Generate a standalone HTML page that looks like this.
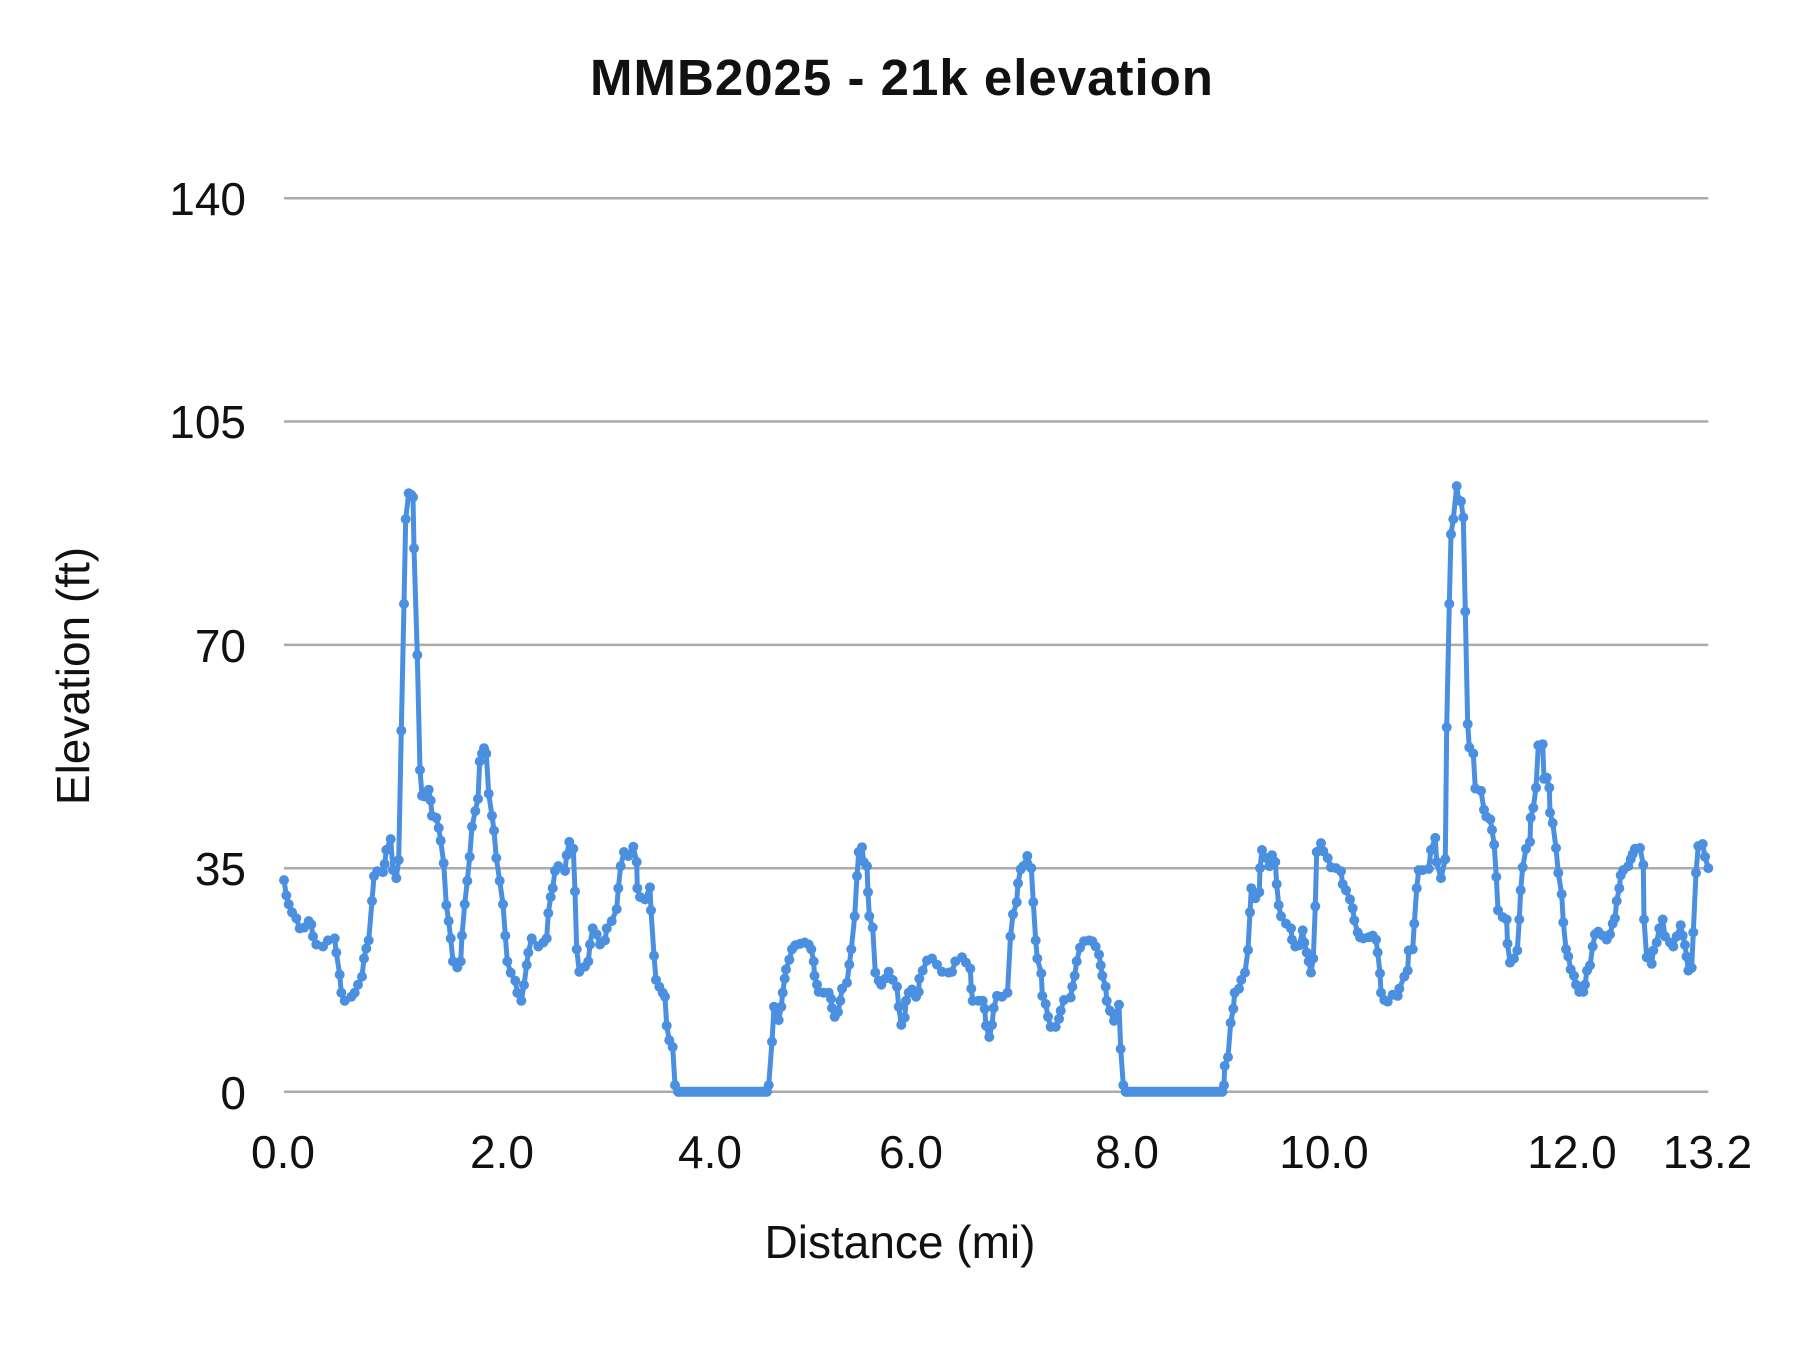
<!DOCTYPE html>
<html>
<head>
<meta charset="utf-8">
<style>
  html, body { margin: 0; padding: 0; background: #ffffff; }
  svg { display: block; }
  text { font-family: "Liberation Sans", Arial, sans-serif; fill: #111; }
</style>
</head>
<body>
<svg width="1800" height="1350" viewBox="0 0 1800 1350" xmlns="http://www.w3.org/2000/svg">
  <defs>
    <marker id="dot" markerWidth="12" markerHeight="12" refX="6" refY="6" markerUnits="userSpaceOnUse" overflow="visible">
      <circle cx="6" cy="6" r="5" fill="#4a8fe0"/>
    </marker>
  </defs>
  <rect x="0" y="0" width="1800" height="1350" fill="#ffffff"/>

  <text x="902" y="95" text-anchor="middle" font-size="51" font-weight="bold" letter-spacing="1">MMB2025 - 21k elevation</text>

  <g stroke="#ababab" stroke-width="2.5">
    <line x1="284" y1="198.3" x2="1708.3" y2="198.3"/>
    <line x1="284" y1="421.5" x2="1708.3" y2="421.5"/>
    <line x1="284" y1="644.9" x2="1708.3" y2="644.9"/>
    <line x1="284" y1="868.3" x2="1708.3" y2="868.3"/>
    <line x1="284" y1="1091.7" x2="1708.3" y2="1091.7"/>
  </g>

  <g font-size="46" text-anchor="end">
    <text x="246" y="215">140</text>
    <text x="246" y="438">105</text>
    <text x="246" y="662">70</text>
    <text x="246" y="885">35</text>
    <text x="246" y="1109">0</text>
  </g>

  <g font-size="46" text-anchor="middle">
    <text x="283" y="1168">0.0</text>
    <text x="502" y="1168">2.0</text>
    <text x="710" y="1168">4.0</text>
    <text x="911" y="1168">6.0</text>
    <text x="1127" y="1168">8.0</text>
    <text x="1324" y="1168">10.0</text>
    <text x="1572" y="1168">12.0</text>
    <text x="1707.5" y="1168">13.2</text>
  </g>

  <text x="900" y="1258" font-size="46" text-anchor="middle">Distance (mi)</text>
  <text transform="translate(89,676) rotate(-90)" x="0" y="0" font-size="46" text-anchor="middle">Elevation (ft)</text>

  <g stroke="#4a8fe0" stroke-width="10" stroke-linecap="round">
    <line x1="678" y1="1091.7" x2="767" y2="1091.7"/>
    <line x1="1125.7" y1="1091.7" x2="1222.3" y2="1091.7"/>
  </g>

  <polyline fill="none" stroke="#4a8fe0" stroke-width="5" stroke-linejoin="round" stroke-linecap="round"
    marker-start="url(#dot)" marker-mid="url(#dot)" marker-end="url(#dot)"
    points="284.0,880.1 286.3,895.4 288.7,904.3 292.0,912.3 296.3,918.3 299.7,928.4 304.0,927.6 308.7,921.1 311.3,924.4 313.0,936.4 316.3,944.5 323.0,946.5 328.0,940.4 334.7,938.4 336.3,952.5 339.7,974.6 341.3,992.7 344.7,1000.8 351.3,996.7 354.7,992.7 358.0,984.7 362.0,976.6 364.0,958.5 366.3,948.5 368.7,940.4 372.0,901.0 374.0,876.1 377.3,871.3 383.0,872.1 384.7,864.0 386.3,850.0 390.7,839.1 393.0,870.1 396.3,878.1 398.7,860.0 401.3,730.6 404.0,603.9 405.7,519.1 408.7,493.3 411.3,494.9 413.0,497.3 414.0,548.4 417.3,655.0 420.0,770.0 422.0,795.7 424.7,796.5 428.7,789.7 430.7,800.5 432.0,815.8 436.3,817.8 438.7,827.9 440.7,840.7 443.7,863.2 446.3,905.1 448.7,921.1 450.7,938.4 453.0,961.4 457.3,967.4 460.7,961.4 462.0,935.6 464.7,904.3 467.3,880.9 469.7,856.8 472.0,826.7 475.3,811.0 478.0,798.9 479.7,761.5 482.0,753.5 484.0,748.2 486.3,753.5 488.7,793.7 492.0,815.8 494.0,830.7 496.3,858.0 499.7,880.9 503.0,904.3 505.3,935.6 507.3,961.4 510.7,972.6 515.3,980.7 517.3,992.7 521.3,1000.8 524.0,985.0 526.7,965.0 528.3,952.5 531.7,938.4 538.3,946.5 543.3,942.5 546.7,938.4 548.3,913.1 550.7,897.0 552.7,888.2 555.0,870.9 558.3,866.1 565.0,870.9 566.7,855.2 569.3,841.9 573.3,848.8 575.0,891.4 576.7,949.3 579.3,971.8 585.0,966.6 588.3,961.4 590.0,944.5 592.7,928.4 596.7,934.4 600.0,944.5 605.0,940.4 606.7,928.4 611.7,921.1 616.7,909.1 618.3,888.2 620.7,866.1 624.0,852.0 628.3,856.0 633.3,846.8 636.7,862.0 637.3,888.2 640.0,897.0 645.0,899.4 650.0,887.4 651.0,910.3 654.0,955.7 656.0,979.9 659.3,986.7 662.7,992.7 665.0,996.7 666.7,1025.7 669.3,1040.2 672.7,1047.0 675.0,1085.2 678.3,1091.7 766.7,1091.7 768.7,1085.2 772.0,1041.8 774.0,1006.8 778.7,1020.1 781.3,1006.8 782.7,992.7 784.7,978.6 786.0,969.4 789.3,959.7 792.0,949.3 795.3,945.3 800.3,943.7 804.7,942.5 808.7,944.5 811.3,949.3 813.7,961.4 814.5,975.8 817.0,984.7 818.7,991.9 823.7,992.7 828.7,992.7 831.0,998.7 832.0,1008.0 834.7,1016.8 838.0,1012.0 840.3,1000.8 842.0,988.7 847.0,982.7 849.3,964.6 851.3,949.3 854.7,916.3 857.0,876.1 858.7,852.0 862.0,847.2 863.7,862.0 867.0,866.1 868.0,892.2 869.3,916.3 872.7,927.6 875.3,972.6 878.7,980.7 881.3,984.7 885.3,978.6 888.7,971.8 892.7,979.9 897.0,986.7 898.7,1006.8 901.3,1024.9 904.7,1017.6 906.0,1000.8 908.7,992.7 912.0,989.5 916.0,996.7 918.7,991.9 919.3,978.6 922.7,970.6 927.0,960.5 932.0,958.5 937.0,964.6 942.0,971.8 948.7,972.6 952.0,971.8 955.3,961.4 962.0,957.3 966.0,962.6 970.3,968.6 971.3,988.7 972.7,1000.8 978.7,1000.8 982.7,1000.8 984.7,1008.8 986.0,1025.7 989.3,1037.0 992.0,1024.9 993.7,1008.0 997.0,995.9 1002.0,996.7 1007.5,992.7 1010.5,936.4 1013.0,914.3 1016.7,902.2 1018.0,883.3 1020.7,869.3 1023.3,866.1 1027.3,856.0 1031.3,868.1 1033.3,902.2 1035.7,940.4 1037.3,958.5 1041.3,973.4 1042.3,995.9 1045.7,1004.0 1048.0,1016.8 1050.7,1026.9 1055.7,1026.9 1059.0,1018.9 1060.7,1010.8 1064.0,1000.0 1070.7,997.5 1072.3,986.7 1074.7,975.8 1076.7,961.4 1080.0,947.7 1084.0,941.3 1089.0,940.4 1092.3,941.3 1095.7,946.5 1099.0,954.5 1100.7,965.4 1102.3,975.8 1105.7,986.7 1106.7,1000.8 1110.0,1010.8 1114.0,1020.9 1119.0,1004.8 1120.7,1049.0 1123.3,1085.2 1125.7,1091.7 1222.3,1091.7 1224.0,1085.2 1224.7,1065.9 1228.0,1057.1 1230.7,1022.9 1233.3,1008.8 1234.7,992.7 1239.0,988.7 1241.3,979.9 1245.0,972.6 1248.0,950.0 1250.0,912.3 1251.3,888.2 1255.3,898.2 1259.3,892.2 1260.0,868.1 1262.0,850.0 1266.0,858.0 1269.3,866.1 1272.0,855.2 1275.3,862.0 1276.7,884.2 1278.7,905.1 1281.0,916.3 1286.0,923.6 1291.0,928.4 1292.0,939.6 1295.3,946.5 1299.3,945.3 1302.7,930.4 1304.3,942.5 1306.7,952.5 1308.7,961.4 1311.0,972.6 1313.3,958.5 1315.3,906.3 1316.7,852.0 1321.0,843.1 1323.3,851.2 1327.7,858.0 1331.0,867.3 1336.0,868.1 1341.0,871.3 1342.7,884.2 1346.0,890.2 1350.0,899.4 1352.7,908.3 1354.3,920.3 1357.7,932.4 1360.0,937.2 1363.3,938.4 1368.7,937.2 1372.7,935.6 1376.0,939.6 1377.7,952.5 1380.0,973.4 1381.0,992.7 1384.3,1000.0 1387.7,1001.6 1392.7,994.7 1397.7,995.9 1399.3,988.7 1404.3,976.6 1407.7,970.6 1408.7,950.5 1412.7,949.3 1414.3,923.6 1416.7,888.2 1418.7,870.1 1422.7,870.1 1428.7,868.9 1431.0,850.0 1435.3,837.9 1436.7,862.0 1441.0,878.1 1445.3,859.2 1446.7,727.3 1449.3,603.9 1451.0,534.3 1453.3,519.1 1456.7,486.1 1458.7,500.2 1461.0,501.4 1463.3,517.4 1465.3,611.5 1467.7,724.1 1469.3,747.4 1473.3,753.5 1475.3,788.5 1481.0,790.9 1484.0,809.8 1486.3,816.6 1490.3,819.4 1492.0,829.9 1494.2,844.7 1496.3,876.9 1498.0,910.3 1502.7,917.1 1506.7,919.5 1507.5,943.7 1510.0,962.6 1514.0,958.5 1517.3,950.5 1519.3,919.5 1520.7,890.2 1522.7,867.3 1526.0,848.8 1530.0,841.9 1530.7,817.8 1533.3,807.8 1536.0,787.7 1538.3,745.4 1542.7,744.2 1544.0,778.8 1546.7,777.6 1549.3,787.7 1550.0,812.6 1552.7,823.0 1556.0,848.0 1558.3,872.9 1561.7,894.2 1563.3,922.4 1566.0,949.3 1568.3,956.5 1570.7,969.4 1574.0,975.8 1576.0,984.7 1579.3,991.9 1583.3,991.9 1585.0,984.7 1587.0,970.6 1590.0,965.4 1592.7,946.5 1595.0,934.4 1598.3,931.6 1602.7,935.6 1606.7,939.6 1610.0,934.4 1612.7,923.6 1615.0,918.3 1616.7,901.0 1619.3,888.2 1620.7,875.3 1623.3,870.1 1628.3,866.1 1630.7,859.2 1632.7,854.0 1635.0,848.8 1640.0,848.0 1643.3,864.9 1644.0,919.5 1646.7,957.3 1651.7,963.8 1653.3,950.5 1656.7,942.5 1659.3,928.4 1662.7,919.5 1665.0,936.4 1670.0,942.5 1673.3,946.5 1676.7,936.4 1680.7,925.2 1682.7,935.6 1685.0,945.0 1686.5,956.5 1688.3,970.6 1691.7,967.8 1693.3,932.4 1696.0,872.9 1698.3,846.0 1702.7,844.0 1705.0,856.8 1708.3,868.1"/>
</svg>
</body>
</html>
